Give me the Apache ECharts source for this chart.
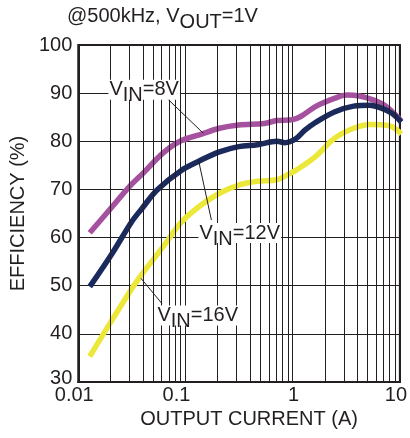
<!DOCTYPE html>
<html>
<head>
<meta charset="utf-8">
<script src="https://cdn.jsdelivr.net/npm/echarts@6/dist/echarts.min.js"></script>
<style>
html,body{margin:0;padding:0;background:#fff;}
#chart{width:410px;height:438px;}
</style>
</head>
<body>
<div id="chart"></div>
<script>
// ---- data ----
const current8 = [0.0128, 0.0207, 0.030, 0.0412, 0.062, 0.0907, 0.137, 0.207, 0.313, 0.542, 0.713, 1.0, 1.2, 1.63, 2.45, 3.2, 4.2, 5.6, 7.5, 10.3];
const eff8     = [61.0,   66.4,   70.6,  73.6,   77.6,  80.1,   81.4,  82.7,  83.4,  83.7,  84.3,  84.5, 85.2, 87.2, 88.9, 89.6, 89.4, 88.6, 87.2, 84.2];

const current12 = [0.0128, 0.0207, 0.0313, 0.0398, 0.0543, 0.0907, 0.137, 0.207, 0.313, 0.47, 0.713, 0.85, 0.94, 1.08, 1.3, 1.63, 2.45, 3.7, 5.24, 6.9, 8.45, 10.3];
const eff12     = [49.8,   56.7,   63.2,   66.2,   69.9,   73.9,   76.0,  77.8,  78.9,  79.3, 80.0,  79.7, 79.9, 80.6, 82.3, 83.9, 86.1, 87.3, 87.5, 86.8, 85.8, 84.0];

const current16 = [0.0128, 0.0207, 0.0359, 0.062, 0.0907, 0.137, 0.207, 0.313, 0.47, 0.713, 0.94, 1.08, 1.63, 2.45, 3.7, 5.24, 6.9, 8.45, 10.3];
const eff16     = [35.3,   42.9,   51.2,   58.1,  63.1,   66.6,  69.2,  70.9,  71.7, 72.0,  73.3, 74.0, 76.8, 80.6, 82.7, 83.5, 83.4, 83.0, 81.5];

const seriesNames = ['VIN=8V', 'VIN=12V', 'VIN=16V'];
const xTickLabels = ['0.01', '0.1', '1', '10'];
const yTickLabels = ['30', '40', '50', '60', '70', '80', '90', '100'];
const minorGridX = [0.02, 0.03, 0.04, 0.05, 0.06, 0.07, 0.08, 0.09,
                    0.2, 0.3, 0.4, 0.5, 0.6, 0.7, 0.8, 0.9,
                    2, 3, 4, 5, 6, 7, 8, 9];

// annotation label anchors [current, efficiency]
const label8Pos  = [0.0412, 90.7];
const label12Pos = [0.321, 60.95];
const label16Pos = [0.1302, 43.8];
// leader lines [[x1,y1],[x2,y2]]
const leader8  = [[0.0601, 89.97], [0.1467, 81.66]];
const leader12 = [[0.1744, 63.65], [0.1323, 76.1]];
const leader16 = [[0.0601, 46.34], [0.0384, 51.54]];

// ---- chart ----
const FONT = "'Liberation Sans', Arial, sans-serif";
const INK = '#231f20';
const zip = (a, b) => a.map((v, i) => [v, b[i]]);

const subRich = {
  v: { fontSize: 20, fontFamily: FONT, fontWeight: 'normal', color: INK, lineHeight: 20, verticalAlign: 'top' },
  s: { fontSize: 20, fontFamily: FONT, fontWeight: 'normal', color: INK, lineHeight: 20, verticalAlign: 'top', padding: [6, 0, 0, 0] }
};

function annot(pos, leader, text) {
  return {
    markPoint: {
      symbol: 'circle', symbolSize: 1,
      itemStyle: { color: 'rgba(0,0,0,0)' },
      silent: true,
      data: [{ coord: pos, value: 0 }],
      label: {
        show: true, position: 'inside',
        formatter: text,
        backgroundColor: '#fff',
        padding: [0, 1, 0, 1],
        rich: subRich
      }
    },
    markLine: {
      silent: true, symbol: ['none', 'none'], animation: false,
      label: { show: false },
      lineStyle: { color: INK, width: 1, type: 'solid' },
      data: [[{ coord: leader[0] }, { coord: leader[1] }]]
    }
  };
}

const chart = echarts.init(document.getElementById('chart'), null, { renderer: 'canvas' });

const xLabelRich = {
  a0: { fontSize: 20, fontFamily: FONT, color: INK, padding: [0, 8, 0, 0] },
  a1: { fontSize: 20, fontFamily: FONT, color: INK, padding: [0, 18, 0, 0] },
  a2: { fontSize: 20, fontFamily: FONT, color: INK, padding: [0, 0, 0, 2] },
  a3: { fontSize: 20, fontFamily: FONT, color: INK, padding: [0, 8, 0, 0] }
};

const lineBase = { type: 'line', smooth: 0.35, showSymbol: false, z: 3 };

const option = {
  animation: false,
  backgroundColor: '#fff',
  title: {
    text: '{v|@500kHz, V}{s|OUT}{v|=1V}',
    left: 67, top: 6, padding: 0,
    textStyle: { fontWeight: 'normal', rich: subRich }
  },
  grid: {
    left: 73, right: 2, top: 45, bottom: 56,
    show: true, borderColor: INK, borderWidth: 2, backgroundColor: 'transparent'
  },
  xAxis: {
    type: 'log', logBase: 10, min: 0.01, max: 10,
    name: 'OUTPUT CURRENT (A)', nameLocation: 'middle', nameGap: 27,
    nameTextStyle: { fontSize: 20, fontFamily: FONT, color: INK, padding: [0, 0, 0, 20] },
    axisLine: { show: true, lineStyle: { color: INK, width: 2 } },
    axisTick: { show: false },
    splitLine: { show: true, lineStyle: { color: INK, width: 1 } },
    axisLabel: {
      margin: 3,
      fontSize: 20, fontFamily: FONT, color: INK,
      showMinLabel: true, showMaxLabel: true,
      formatter: (v, i) => '{a' + i + '|' + xTickLabels[i] + '}',
      rich: xLabelRich
    }
  },
  yAxis: {
    type: 'value', min: 30, max: 100, interval: 10,
    name: 'EFFICIENCY (%)', nameLocation: 'middle', nameGap: 44,
    nameTextStyle: { fontSize: 20, fontFamily: FONT, color: INK },
    axisLine: { show: true, lineStyle: { color: INK, width: 2 } },
    axisTick: { show: false },
    splitLine: { show: true, lineStyle: { color: INK, width: 1 } },
    axisLabel: {
      margin: 6,
      fontSize: 20, fontFamily: FONT, color: INK,
      formatter: (v, i) => i === 0 ? '{b|' + yTickLabels[i] + '}' : yTickLabels[i],
      rich: { b: { fontSize: 20, fontFamily: FONT, color: INK, padding: [0, 0, 8, 0] } }
    }
  },
  series: [
    {
      name: 'grid', type: 'line', data: [], z: 1, silent: true,
      markLine: {
        silent: true, symbol: ['none', 'none'], animation: false,
        label: { show: false },
        lineStyle: { color: INK, width: 1, type: 'solid' },
        data: minorGridX.map(v => ({ xAxis: v }))
      }
    },
    Object.assign({}, lineBase, {
      name: seriesNames[0], data: zip(current8, eff8),
      lineStyle: { color: '#a6519f', width: 5.5 }, itemStyle: { color: '#a6519f' }
    }, annot(label8Pos, leader8, '{v|V}{s|IN}{v|=8V}')),
    Object.assign({}, lineBase, {
      name: seriesNames[1], data: zip(current12, eff12),
      lineStyle: { color: '#1b2a5c', width: 5.5 }, itemStyle: { color: '#1b2a5c' }
    }, annot(label12Pos, leader12, '{v|V}{s|IN}{v|=12V}')),
    Object.assign({}, lineBase, {
      name: seriesNames[2], data: zip(current16, eff16),
      lineStyle: { color: '#ece83a', width: 5.5 }, itemStyle: { color: '#ece83a' }
    }, annot(label16Pos, leader16, '{v|V}{s|IN}{v|=16V}'))
  ]
};
chart.setOption(option);
</script>
</body>
</html>
